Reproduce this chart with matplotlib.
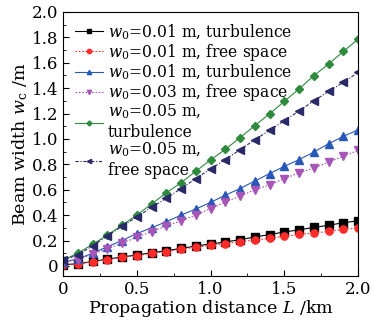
import matplotlib
matplotlib.use("Agg")
import matplotlib.pyplot as plt
from matplotlib.ticker import MultipleLocator, FuncFormatter

plt.rcParams['font.family'] = ['DejaVu Serif']
plt.rcParams['mathtext.fontset'] = 'dejavuserif'

L = [0.0, 0.1, 0.2, 0.3, 0.4, 0.5, 0.6, 0.7, 0.8, 0.9, 1.0,
     1.1, 1.2, 1.3, 1.4, 1.5, 1.6, 1.7, 1.8, 1.9, 2.0]

w_001_turb = [0.01, 0.016, 0.035, 0.053, 0.07, 0.086, 0.104, 0.12, 0.138, 0.156, 0.173,
              0.188, 0.207, 0.227, 0.247, 0.267, 0.284, 0.303, 0.32, 0.34, 0.355]
w_001_free = [0.01, 0.015, 0.033, 0.05, 0.067, 0.081, 0.099, 0.113, 0.13, 0.147, 0.162,
              0.175, 0.19, 0.204, 0.217, 0.232, 0.248, 0.258, 0.272, 0.288, 0.30]
w_003_turb = [0.03, 0.055, 0.10, 0.151, 0.20, 0.255, 0.30, 0.348, 0.40, 0.448, 0.50,
              0.557, 0.609, 0.669, 0.727, 0.784, 0.837, 0.897, 0.962, 1.02, 1.072]
w_003_free = [0.03, 0.048, 0.092, 0.133, 0.18, 0.225, 0.27, 0.314, 0.356, 0.40, 0.452,
              0.504, 0.549, 0.60, 0.637, 0.688, 0.732, 0.771, 0.818, 0.863, 0.91]
w_005_turb = [0.045, 0.10, 0.17, 0.243, 0.32, 0.40, 0.488, 0.575, 0.656, 0.745, 0.835,
              0.918, 1.01, 1.105, 1.198, 1.296, 1.394, 1.498, 1.59, 1.689, 1.786]
w_005_free = [0.045, 0.086, 0.157, 0.235, 0.312, 0.385, 0.462, 0.533, 0.609, 0.688, 0.763,
              0.837, 0.915, 0.994, 1.067, 1.145, 1.22, 1.30, 1.375, 1.446, 1.524]

labels = [r"$w_0$=0.01 m, turbulence",
          r"$w_0$=0.01 m, free space",
          r"$w_0$=0.01 m, turbulence",
          r"$w_0$=0.03 m, free space",
          "$w_0$=0.05 m,\nturbulence",
          "$w_0$=0.05 m,\nfree space"]

fig = plt.figure(figsize=(3.73, 3.24), dpi=100)
ax = fig.add_axes([0.169, 0.148, 0.791, 0.815])

ms = 5.2
ax.plot(L, w_001_turb, color='#000000', lw=0.8, marker='s', ms=ms, label=labels[0])
ax.plot(L, w_001_free, color='#ff2a2a', lw=0.8, ls=(0, (1.5, 1.5)), marker='o', ms=ms,
        label=labels[1], markeredgecolor='#ff2a2a')
ax.plot(L, w_003_turb, color='#2858b8', lw=0.8, marker='^', ms=ms, label=labels[2])
ax.plot(L, w_003_free, color='#a855b8', lw=0.8, ls=(0, (1.5, 1.5)), marker='v', ms=ms,
        label=labels[3])
ax.plot(L, w_005_turb, color='#2e8b3e', lw=0.8, marker='D', ms=4.3, label=labels[4],
        markerfacecolor='#2e8b3e')
ax.plot(L, w_005_free, color='#2a2a68', lw=0.8, ls=(0, (3, 1.5, 1, 1.5)), marker='<', ms=ms,
        label=labels[5])

ax.set_xlim(0, 2.0)
ax.set_ylim(-0.08, 2.0)
ax.xaxis.set_major_locator(MultipleLocator(0.5))
ax.xaxis.set_minor_locator(MultipleLocator(0.25))
ax.yaxis.set_major_locator(MultipleLocator(0.2))
ax.yaxis.set_minor_locator(MultipleLocator(0.1))

def fmt(v, pos):
    if abs(v) < 1e-9:
        return "0"
    return "%.1f" % v

ax.xaxis.set_major_formatter(FuncFormatter(fmt))
ax.yaxis.set_major_formatter(FuncFormatter(fmt))
ax.tick_params(which='both', direction='in', top=False, right=False, labelsize=12)
ax.tick_params(which='major', length=4)
ax.tick_params(which='minor', length=2)
for s in ax.spines.values():
    s.set_linewidth(0.8)

ax.set_xlabel("Propagation distance $L$ /km", fontsize=12.6, labelpad=0)
ax.set_ylabel(r"Beam width $w_{\rm c}$ /m", fontsize=12.6, labelpad=1)

ax.legend(loc='upper left', frameon=False, fontsize=11.2, handlelength=1.8,
          labelspacing=0.0, handletextpad=0.3, borderaxespad=0.0, markerscale=0.6,
          bbox_to_anchor=(0.02, 0.985))

fig.savefig("out.png", dpi=100)
